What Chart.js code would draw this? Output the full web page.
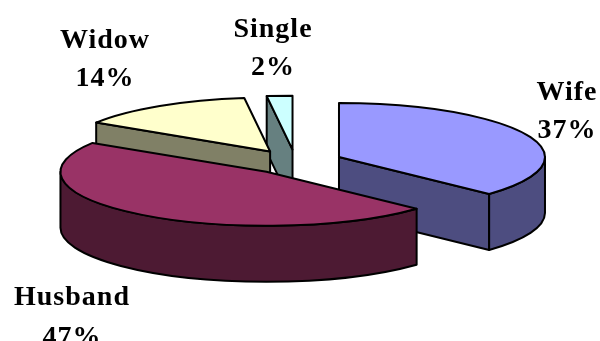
<!DOCTYPE html>
<html>
<head>
<meta charset="utf-8">
<title>Marital status</title>
<script src="https://cdn.jsdelivr.net/npm/chart.js@4"></script>
<style>
  html, body { margin: 0; background: #fff; }
  #wrap { width: 600px; height: 341px; }
</style>
</head>
<body>
<div id="wrap"><canvas id="chart" width="600" height="341"></canvas></div>
<script>
const categories = ["Wife", "Husband", "Widow", "Single"];
const shares = [37, 47, 14, 2];
const topColors = ["#9999ff", "#993366", "#ffffcc", "#ccffff"];
const wallColors = ["#4d4d80", "#4d1a33", "#808066", "#668080"];

// Tilt and extrusion of the pie
const squash = 0.262;
const depth = 56;
const explode = 0.23;

// Label centres, name line then percent line
const labelSpots = [
  { x: 567, name: 100, pct: 138 },
  { x: 72, name: 305, pct: 345 },
  { x: 105, name: 48, pct: 86 },
  { x: 273, name: 37, pct: 75 }
];

// Points on the tilted rim for a canvas angle
function rimPoint(s, angle) {
  return { x: s.cx + s.rx * Math.cos(angle), y: s.cy + s.ry * Math.sin(angle) };
}

function drawRadialWall(ctx, s, angle, color) {
  const p = rimPoint(s, angle);
  ctx.beginPath();
  ctx.moveTo(s.cx, s.cy);
  ctx.lineTo(p.x, p.y);
  ctx.lineTo(p.x, p.y + depth);
  ctx.lineTo(s.cx, s.cy + depth);
  ctx.closePath();
  ctx.fillStyle = color;
  ctx.fill();
  ctx.stroke();
}

// Only the part of the rim between 0 and PI faces the viewer
function drawOuterWall(ctx, s, color) {
  const from = Math.max(s.start, 0);
  const to = Math.min(s.end, Math.PI);
  if (to <= from) return;
  ctx.beginPath();
  ctx.ellipse(s.cx, s.cy, s.rx, s.ry, 0, from, to);
  ctx.ellipse(s.cx, s.cy + depth, s.rx, s.ry, 0, to, from, true);
  ctx.closePath();
  ctx.fillStyle = color;
  ctx.fill();
  ctx.stroke();
}

function drawTop(ctx, s, color) {
  ctx.beginPath();
  ctx.moveTo(s.cx, s.cy);
  ctx.ellipse(s.cx, s.cy, s.rx, s.ry, 0, s.start, s.end);
  ctx.closePath();
  ctx.fillStyle = color;
  ctx.fill();
  ctx.stroke();
}

// Replaces the flat arcs with extruded wedges built from the arc elements
const pie3d = {
  id: "pie3d",
  beforeDatasetDraw(chart, args) {
    const ctx = chart.ctx;
    const slices = args.meta.data.map((arc, i) => {
      const mid = (arc.startAngle + arc.endAngle) / 2;
      const rx = arc.outerRadius;
      const ry = rx * squash;
      return {
        i,
        rx,
        ry,
        start: arc.startAngle,
        end: arc.endAngle,
        cx: arc.x + Math.cos(mid) * rx * explode,
        cy: arc.y + Math.sin(mid) * ry * explode
      };
    });

    // Furthest wedge first so nearer ones paint over it
    slices.sort((a, b) => a.cy - b.cy);

    ctx.save();
    ctx.strokeStyle = "#000";
    ctx.lineWidth = 2;
    ctx.lineJoin = "round";
    slices.forEach((s) => {
      // A cut face shows only when it turns towards the viewer
      if (Math.cos(s.start) < 0) drawRadialWall(ctx, s, s.start, wallColors[s.i]);
      if (Math.cos(s.end) > 0) drawRadialWall(ctx, s, s.end, wallColors[s.i]);
      drawOuterWall(ctx, s, wallColors[s.i]);
      drawTop(ctx, s, topColors[s.i]);
    });
    ctx.restore();
    return false;
  },
  afterDraw(chart) {
    const ctx = chart.ctx;
    ctx.save();
    ctx.fillStyle = "#000";
    ctx.textAlign = "center";
    ctx.font = "bold 28px 'Liberation Serif'";
    ctx.letterSpacing = "1px";
    categories.forEach((name, i) => {
      const spot = labelSpots[i];
      ctx.fillText(name, spot.x, spot.name);
      ctx.fillText(shares[i] + "%", spot.x, spot.pct);
    });
    ctx.restore();
  }
};

new Chart(document.getElementById("chart").getContext("2d"), {
  type: "pie",
  data: {
    labels: categories,
    datasets: [{
      data: shares,
      backgroundColor: topColors
    }]
  },
  options: {
    responsive: false,
    animation: false,
    radius: 206,
    layout: { padding: { right: 9, bottom: 17 } },
    plugins: {
      legend: { display: false },
      tooltip: { enabled: false }
    }
  },
  plugins: [pie3d]
});
</script>
</body>
</html>
